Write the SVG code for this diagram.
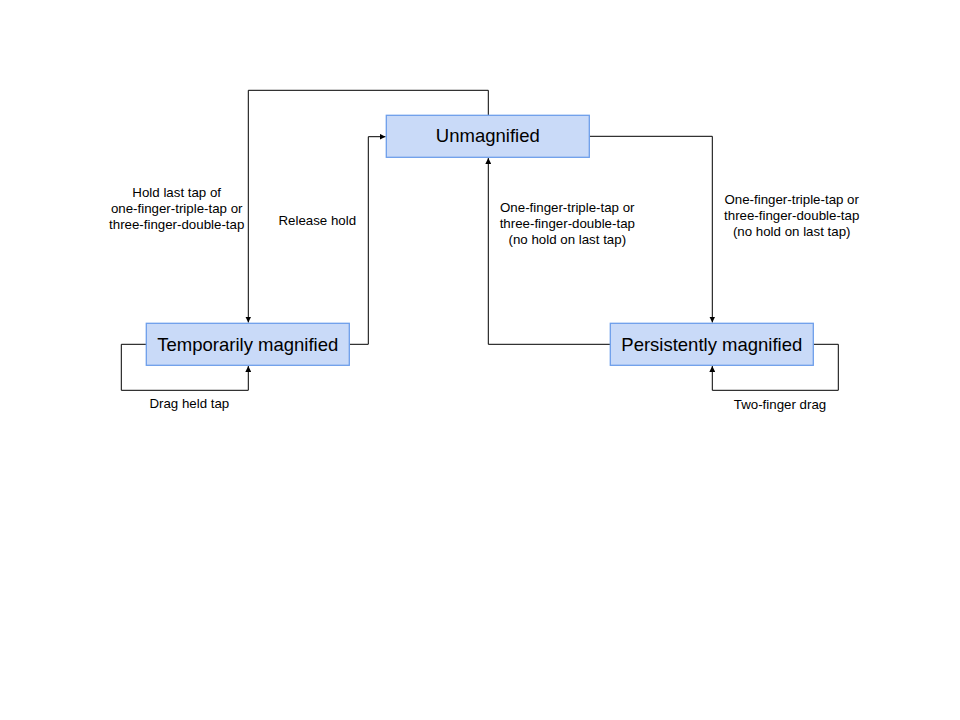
<svg xmlns="http://www.w3.org/2000/svg" width="960" height="720" viewBox="0 0 960 720">
<defs>
<marker id="ah" viewBox="0 0 10 10" refX="10" refY="5" markerWidth="6" markerHeight="6" markerUnits="userSpaceOnUse" orient="auto">
<path d="M0,0 L10,5 L0,10 z" fill="#000"/>
</marker>
<style>
.node rect{fill:#c9daf8;stroke:#6d9eeb;stroke-width:1.3}
.node text{font-family:"Liberation Sans",Arial,sans-serif;font-size:18.5px;fill:#000;text-anchor:middle}
.lbl{font-family:"Liberation Sans",Arial,sans-serif;font-size:13.3px;fill:#000;text-anchor:middle}
#connectors path{fill:none;stroke:#000;stroke-width:1}
</style>
</defs>
<rect width="960" height="720" fill="#fff"/>
<g id="connectors">
<path d="M488.3,115.3 V90.3 H248.3 V322.5" marker-end="url(#ah)"/>
<path d="M349.3,344.3 H368.3 V136.7 H385.5" marker-end="url(#ah)"/>
<path d="M610.3,344.3 H488.3 V158" marker-end="url(#ah)"/>
<path d="M589.3,136.3 H712.3 V322.5" marker-end="url(#ah)"/>
<path d="M813.3,344.3 H838.3 V390.3 H712.3 V366" marker-end="url(#ah)"/>
<path d="M146.3,344.3 H121.3 V390.3 H248.3 V366" marker-end="url(#ah)"/>
</g>
<g id="unmagnified" class="node">
<rect x="386.3" y="115.3" width="203" height="42"/>
<text x="487.8" y="142.3">Unmagnified</text>
</g>
<g id="temporarily" class="node">
<rect x="146.3" y="323.3" width="203" height="42"/>
<text x="247.8" y="350.5">Temporarily magnified</text>
</g>
<g id="persistently" class="node">
<rect x="610.3" y="323.3" width="203" height="42"/>
<text x="711.8" y="350.5">Persistently magnified</text>
</g>
<g id="labels">
<text class="lbl" x="176.7" y="197"><tspan x="176.7">Hold last tap of</tspan><tspan x="176.7" dy="16">one-finger-triple-tap or</tspan><tspan x="176.7" dy="16">three-finger-double-tap</tspan></text>
<text class="lbl" x="317.3" y="224.5">Release hold</text>
<text class="lbl" x="567.3" y="212"><tspan x="567.3">One-finger-triple-tap or</tspan><tspan x="567.3" dy="16">three-finger-double-tap</tspan><tspan x="567.3" dy="16">(no hold on last tap)</tspan></text>
<text class="lbl" x="791.7" y="204"><tspan x="791.7">One-finger-triple-tap or</tspan><tspan x="791.7" dy="16">three-finger-double-tap</tspan><tspan x="791.7" dy="16">(no hold on last tap)</tspan></text>
<text class="lbl" x="189.3" y="408">Drag held tap</text>
<text class="lbl" x="780" y="409">Two-finger drag</text>
</g>
</svg>
